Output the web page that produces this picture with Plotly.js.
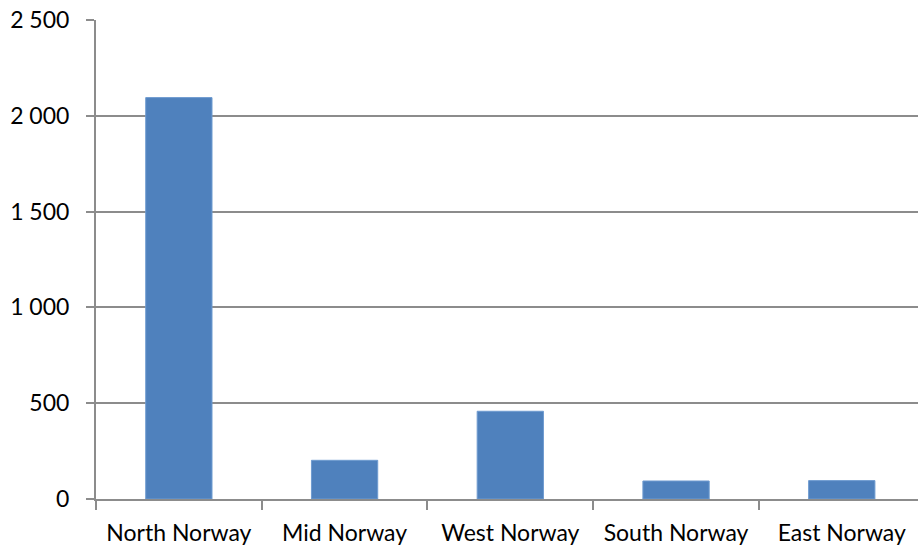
<!DOCTYPE html>
<html>
<head>
<meta charset="utf-8">
<script src="https://cdn.plot.ly/plotly-3.0.1.min.js"></script>
<style>html,body{margin:0;padding:0;background:#fff;}#chart{width:918px;height:548px;}</style>
</head>
<body>
<div id="chart"></div>
<script>
const categories = ["North Norway", "Mid Norway", "West Norway", "South Norway", "East Norway"];
const values = [2095, 202, 458, 94, 96];
const yTicks = [0, 500, 1000, 1500, 2000, 2500];

const trace = {
  type: "bar",
  x: categories,
  y: values,
  marker: {color: "#4F81BD", line: {color: "#6f9bd0", width: 1}},
  hoverinfo: "skip"
};

const layout = {
  width: 918,
  height: 548,
  margin: {l: 96, r: 0, t: 20, b: 49},
  paper_bgcolor: "#ffffff",
  plot_bgcolor: "#ffffff",
  separators: ", ",
  showlegend: false,
  bargap: 0.6,
  font: {family: "Lato, 'Open Sans', sans-serif", size: 23, color: "#000000"},
  xaxis: {
    type: "category",
    range: [-0.5, 4.46],
    showgrid: false,
    showline: true,
    linecolor: "#8c8c8c",
    linewidth: 2,
    ticks: "outside",
    tickson: "boundaries",
    ticklen: 9,
    tickwidth: 2,
    tickcolor: "#8c8c8c",
    ticklabelstandoff: 12,
    tickfont: {size: 23, color: "#000"},
    zeroline: false
  },
  yaxis: {
    range: [0, 2500],
    tickvals: yTicks,
    tickformat: ",d",
    showgrid: true,
    gridcolor: "#8c8c8c",
    gridwidth: 2,
    showline: true,
    linecolor: "#8c8c8c",
    linewidth: 2,
    ticks: "outside",
    ticklen: 8,
    tickwidth: 2,
    tickcolor: "#8c8c8c",
    ticklabelstandoff: 12,
    tickfont: {size: 23, color: "#000"},
    zeroline: false
  }
};

Plotly.newPlot("chart", [trace], layout, {displayModeBar: false, staticPlot: true});
</script>
</body>
</html>
